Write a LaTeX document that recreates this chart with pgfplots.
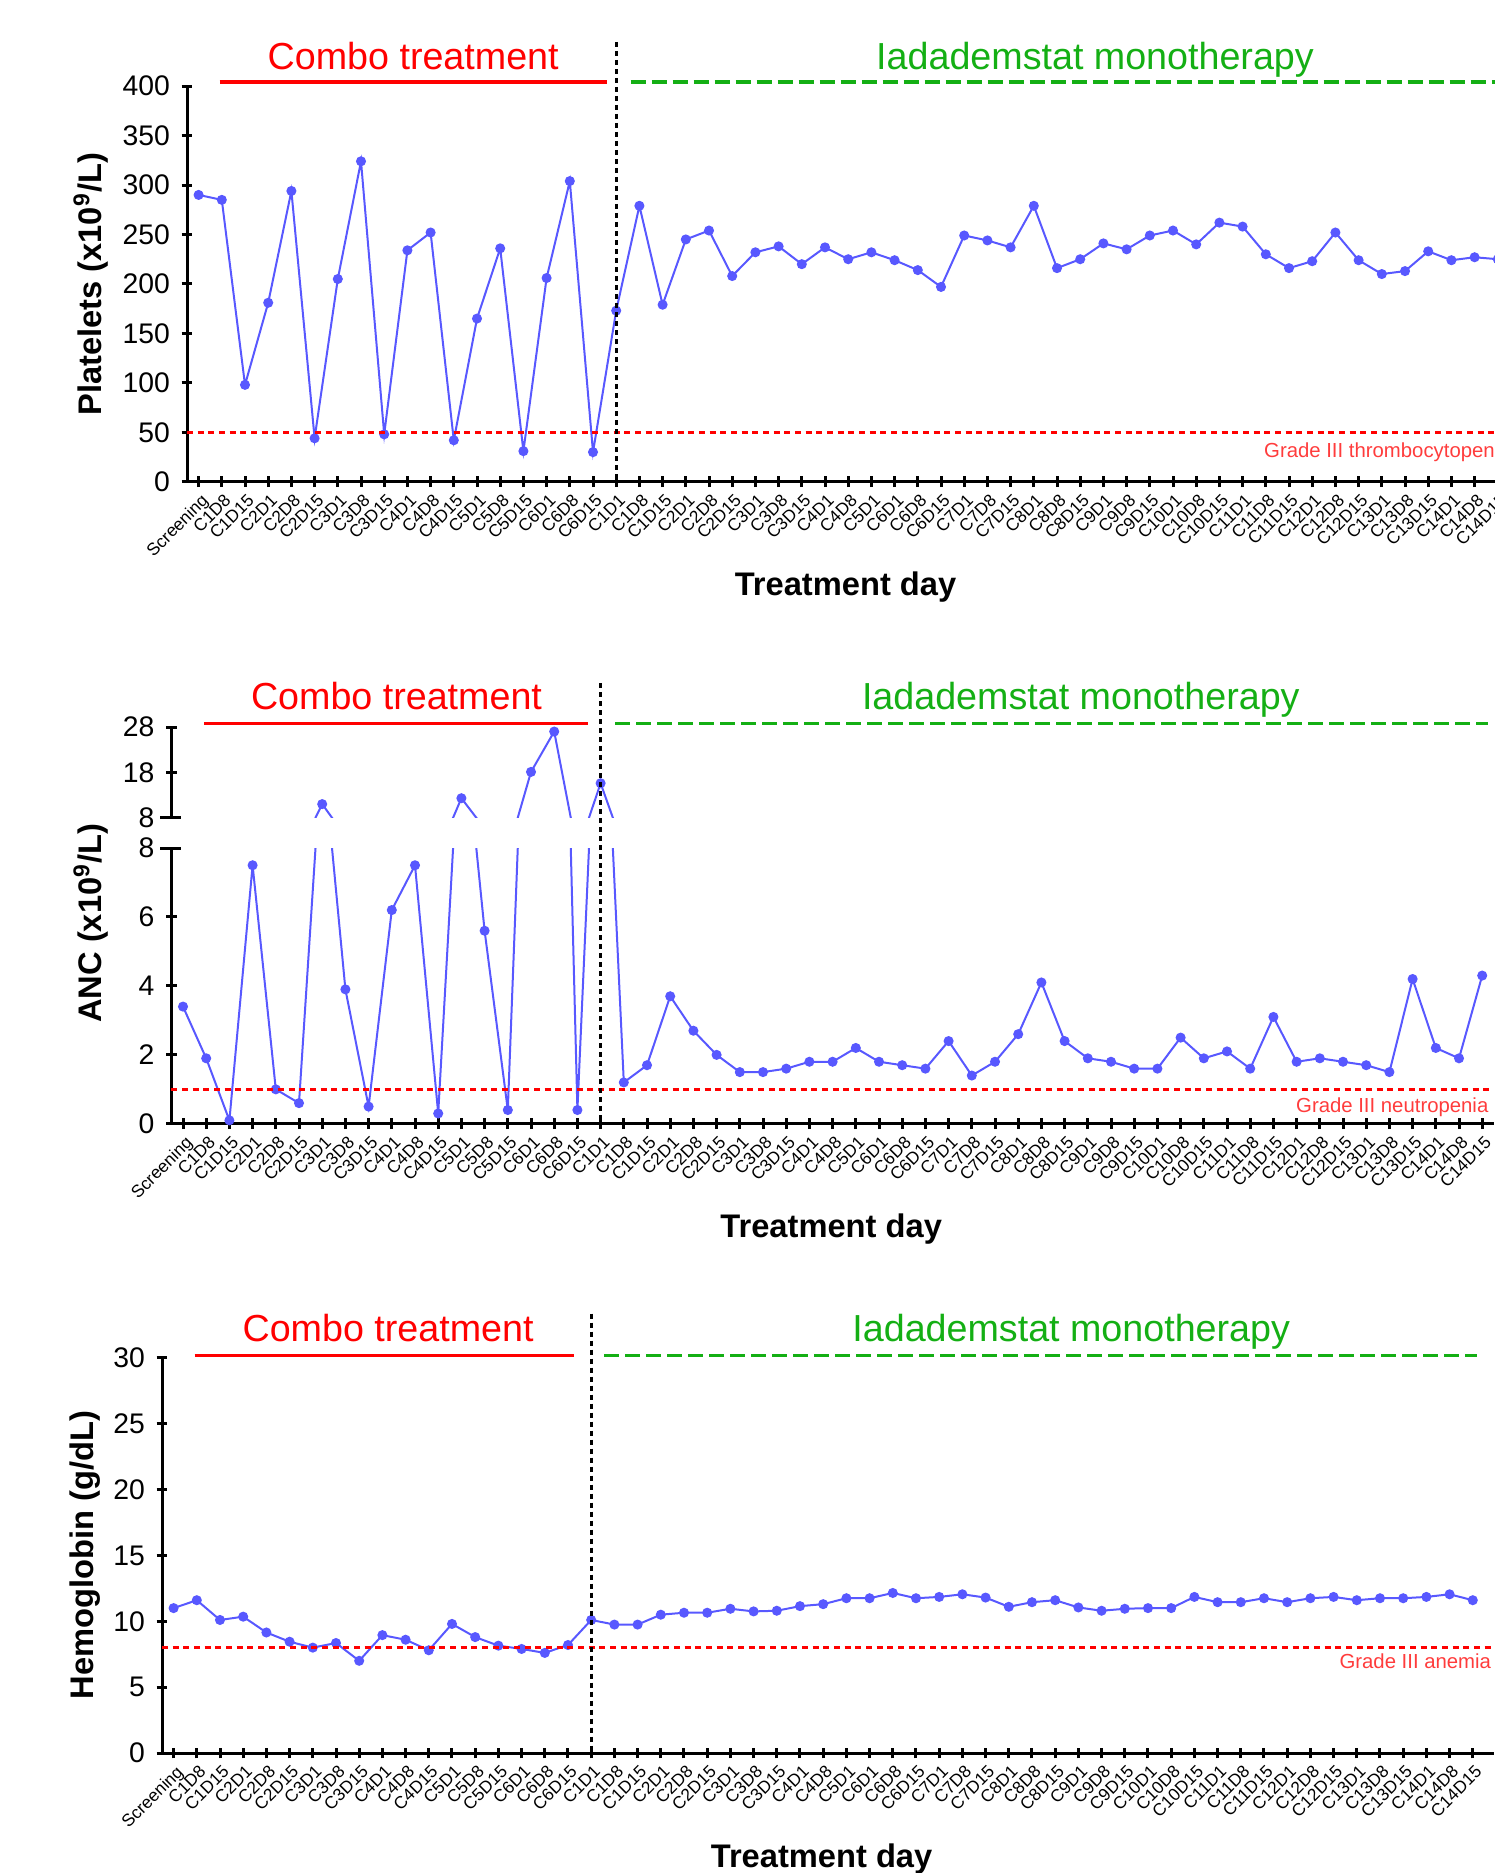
\documentclass[border=0pt]{standalone}
\usepackage{fontspec}
\setmainfont{Liberation Sans}
\usepackage{pgfplots}
\usepackage{pgfplotstable}
\pgfplotsset{compat=1.18}
\definecolor{dblue}{RGB}{88,88,255}
\definecolor{tred}{RGB}{255,0,0}
\definecolor{tgreen}{RGB}{20,175,20}
\definecolor{gred}{RGB}{255,60,60}

\pgfplotstableread{
x y
0 290
1 285
2 98
3 181
4 294
5 44
6 205
7 324
8 48
9 234
10 252
11 42
12 165
13 236
14 31
15 206
16 304
17 30
18 173
19 279
20 179
21 245
22 254
23 208
24 232
25 238
26 220
27 237
28 225
29 232
30 224
31 214
32 197
33 249
34 244
35 237
36 279
37 216
38 225
39 241
40 235
41 249
42 254
43 240
44 262
45 258
46 230
47 216
48 223
49 252
50 224
51 210
52 213
53 233
54 224
55 227
56 225
}\plt

\pgfplotstableread{
x y
0 3.4
1 1.9
2 0.1
3 7.5
4 1.0
5 0.6
6 11.0
7 3.9
8 0.5
9 6.2
10 7.5
11 0.3
12 12.3
13 5.6
14 0.4
15 18.1
16 27.0
17 0.4
18 15.6
19 1.2
20 1.7
21 3.7
22 2.7
23 2.0
24 1.5
25 1.5
26 1.6
27 1.8
28 1.8
29 2.2
30 1.8
31 1.7
32 1.6
33 2.4
34 1.4
35 1.8
36 2.6
37 4.1
38 2.4
39 1.9
40 1.8
41 1.6
42 1.6
43 2.5
44 1.9
45 2.1
46 1.6
47 3.1
48 1.8
49 1.9
50 1.8
51 1.7
52 1.5
53 4.2
54 2.2
55 1.9
56 4.3
}\anc

\pgfplotstableread{
x y
0 11.0
1 11.6
2 10.1
3 10.35
4 9.15
5 8.45
6 8.0
7 8.35
8 7.0
9 8.95
10 8.6
11 7.8
12 9.8
13 8.8
14 8.15
15 7.9
16 7.6
17 8.2
18 10.1
19 9.75
20 9.75
21 10.5
22 10.65
23 10.65
24 10.95
25 10.75
26 10.8
27 11.15
28 11.3
29 11.75
30 11.75
31 12.15
32 11.75
33 11.85
34 12.05
35 11.8
36 11.1
37 11.45
38 11.6
39 11.05
40 10.8
41 10.95
42 11.0
43 11.0
44 11.85
45 11.45
46 11.45
47 11.75
48 11.45
49 11.75
50 11.85
51 11.6
52 11.75
53 11.75
54 11.85
55 12.05
56 11.6
}\hgb

\pgfplotsset{
  base/.style={
    scale only axis, anchor=south west,
    xmin=-0.5,
    tick align=outside, major tick length=3.2pt,
    tick style={black, line width=0.9pt},
    yticklabel style={font=\fontsize{8.5}{10}\selectfont},
    /pgf/number format/assume math mode=true,
  },
  noarrows/.style={
    axis line style={-, line width=0.9pt, black},
    every outer x axis line/.append style={-},
    every outer y axis line/.append style={-},
    every inner x axis line/.append style={-},
    every inner y axis line/.append style={-},
  },
  xcat/.style={
    axis x line=bottom, axis y line=left,
    xtick={0,...,56},
    xticklabels={Screening,C1D8,C1D15,C2D1,C2D8,C2D15,C3D1,C3D8,C3D15,C4D1,C4D8,C4D15,C5D1,C5D8,C5D15,C6D1,C6D8,C6D15,C1D1,C1D8,C1D15,C2D1,C2D8,C2D15,C3D1,C3D8,C3D15,C4D1,C4D8,C5D1,C6D1,C6D8,C6D15,C7D1,C7D8,C7D15,C8D1,C8D8,C8D15,C9D1,C9D8,C9D15,C10D1,C10D8,C10D15,C11D1,C11D8,C11D15,C12D1,C12D8,C12D15,C13D1,C13D8,C13D15,C14D1,C14D8,C14D15},
    xticklabel style={rotate=45, anchor=north east, font=\fontsize{5.2}{6}\selectfont, inner sep=0.8pt, yshift=-0.6pt},
  },
  dline/.style={color=dblue, line width=0.6pt, no marks},
  dmark/.style={only marks, mark=*, mark size=1.3pt, mark options={fill=dblue, draw=dblue}},
}

\tikzset{
  ttl/.style={font=\fontsize{11.3}{13}\selectfont, anchor=base},
  lbl/.style={font=\bfseries\fontsize{9.8}{12}\selectfont},
  grd/.style={font=\fontsize{6.1}{7}\selectfont, text=gred, inner sep=0pt},
  thr/.style={red, line width=0.9pt, dash pattern=on 1.8pt off 1.4pt},
  vdl/.style={black, line width=0.9pt, dash pattern=on 1.5pt off 1.2pt},
  rbar/.style={tred, line width=1.05pt},
  gbar/.style={tgreen, line width=1.05pt, dash pattern=on 4.5pt off 1.8pt},
}

\begin{document}
\begin{tikzpicture}
\useasboundingbox (0,0) rectangle (448.2pt,-561.9pt);

% ---------- top panel: platelets ----------
\begin{axis}[base, xcat, noarrows, at={(56.1pt,-144.54pt)}, width=400.2pt, height=118.71pt,
  xmax=57, ymin=0, ymax=400, ytick={0,50,...,400}]
\addplot[dline] table[x=x,y=y] {\plt};
\addplot[dmark] table[x=x,y=y] {\plt};
\end{axis}
\draw[thr] (56.1pt,-129.69pt) -- (450pt,-129.69pt);
\draw[vdl] (184.86pt,-12.6pt) -- (184.86pt,-144.54pt);
\draw[rbar] (65.91pt,-24.6pt) -- (181.98pt,-24.6pt);
\draw[gbar] (189.15pt,-24.6pt) -- (452pt,-24.6pt);
\node[ttl, text=tred] at (123.96pt,-20.9pt) {Combo treatment};
\node[ttl, text=tgreen] at (328.5pt,-20.9pt) {Iadademstat monotherapy};
\node[grd, anchor=west] at (379.05pt,-135.78pt) {Grade III thrombocytopenia};
\node[lbl, rotate=90] at (27.24pt,-85.26pt) {Platelets (x10\textsuperscript{9}/L)};
\node[lbl] at (253.65pt,-176.25pt) {Treatment day};

% ---------- middle panel: ANC (broken axis) ----------
\begin{axis}[base, xcat, noarrows, at={(51.42pt,-337.14pt)}, width=396.72pt, height=82.74pt,
  xmax=56.5, ymin=0, ymax=8, ytick={0,2,4,6,8}]
\addplot[dline] table[x=x,y=y] {\anc};
\addplot[dmark, restrict y to domain=0:8] table[x=x,y=y] {\anc};
\end{axis}
\begin{axis}[base, at={(51.42pt,-245.31pt)}, width=396.72pt, height=27.21pt,
  xmax=56.5, ymin=8, ymax=28, ytick={8,18,28},
  axis y line=left, hide x axis, noarrows]
\addplot[dline] table[x=x,y=y] {\anc};
\addplot[dmark, restrict y to domain=8:30] table[x=x,y=y] {\anc};
\end{axis}
\draw[black, line width=0.9pt] (48pt,-254.4pt) -- (54.3pt,-254.4pt);
\draw[black, line width=0.9pt] (48pt,-245.31pt) -- (54.3pt,-245.31pt);
\draw[thr] (51.42pt,-326.79pt) -- (448.2pt,-326.79pt);
\draw[vdl] (180.18pt,-204.9pt) -- (180.18pt,-337.14pt);
\draw[rbar] (61.26pt,-217.0pt) -- (176.25pt,-217.0pt);
\draw[gbar] (184.5pt,-217.0pt) -- (446.4pt,-217.0pt);
\node[ttl, text=tred] at (118.95pt,-212.96pt) {Combo treatment};
\node[ttl, text=tgreen] at (324.24pt,-212.96pt) {Iadademstat monotherapy};
\node[grd, anchor=east] at (446.7pt,-332.1pt) {Grade III neutropenia};
\node[lbl, rotate=90] at (27.24pt,-276.9pt) {ANC (x10\textsuperscript{9}/L)};
\node[lbl] at (249.36pt,-368.64pt) {Treatment day};

% ---------- bottom panel: hemoglobin ----------
\begin{axis}[base, xcat, noarrows, at={(48.6pt,-525.9pt)}, width=399.5pt, height=118.56pt,
  xmax=56.9, ymin=0, ymax=30, ytick={0,5,...,30}]
\addplot[dline] table[x=x,y=y] {\hgb};
\addplot[dmark] table[x=x,y=y] {\hgb};
\end{axis}
\draw[thr] (48.6pt,-494.28pt) -- (448.2pt,-494.28pt);
\draw[vdl] (177.36pt,-394.08pt) -- (177.36pt,-525.9pt);
\draw[rbar] (58.41pt,-406.6pt) -- (172.32pt,-406.6pt);
\draw[gbar] (181.29pt,-406.6pt) -- (443.16pt,-406.6pt);
\node[ttl, text=tred] at (116.43pt,-402.5pt) {Combo treatment};
\node[ttl, text=tgreen] at (321.36pt,-402.5pt) {Iadademstat monotherapy};
\node[grd, anchor=east] at (447.5pt,-498.3pt) {Grade III anemia};
\node[lbl, rotate=90] at (25.44pt,-466.44pt) {Hemoglobin (g/dL)};
\node[lbl] at (246.48pt,-557.82pt) {Treatment day};
\end{tikzpicture}
\end{document}
